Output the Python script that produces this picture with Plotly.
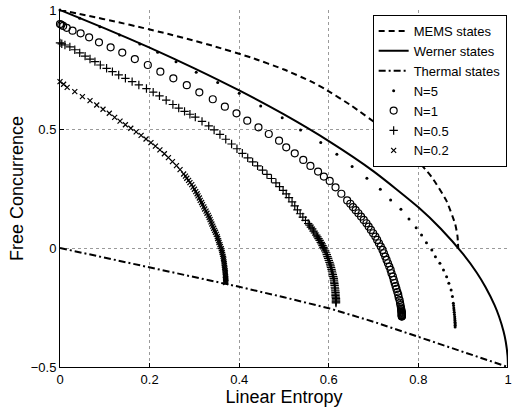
import plotly.graph_objects as go

# ---- data ----
mems_x = [0, 0.065, 0.1267, 0.185, 0.24, 0.2917, 0.34, 0.4267, 0.5, 0.56, 0.5926,
          0.6489, 0.7222, 0.7822, 0.8289, 0.8622, 0.8822, 0.8872, 0.8889]
mems_y = [1, 0.975, 0.95, 0.925, 0.9, 0.875, 0.85, 0.8, 0.75, 0.7, 0.6667,
          0.6, 0.5, 0.4, 0.3, 0.2, 0.1, 0.05, 0]

werner_x = [0, 0.1, 0.2, 0.3, 0.4, 0.5, 0.6, 0.7, 0.8, 0.85, 0.9, 0.93, 0.95,
            0.97, 0.98, 0.99, 0.995, 0.999, 1]
werner_y = [1, 0.923, 0.842, 0.755, 0.662, 0.561, 0.449, 0.322, 0.171, 0.081,
            -0.026, -0.103, -0.165, -0.240, -0.288, -0.35, -0.394, -0.453, -0.5]

thermal_x = [0, 0.1, 0.2, 0.3, 0.4, 0.5, 0.6, 0.7, 0.8, 0.9, 1]
thermal_y = [0, -0.04, -0.081, -0.121, -0.163, -0.207, -0.253, -0.31, -0.373, -0.435, -0.5]

n5_x = [0, 0.044, 0.089, 0.133, 0.178, 0.218, 0.259, 0.304, 0.352, 0.4, 0.448, 0.496,
        0.537, 0.582, 0.618, 0.652, 0.685, 0.715, 0.738, 0.761, 0.779, 0.795, 0.807,
        0.818, 0.830, 0.838, 0.848, 0.856, 0.863, 0.868, 0.873, 0.876, 0.878, 0.8785,
        0.879, 0.8795, 0.880, 0.8805, 0.881, 0.8813, 0.8815, 0.8818, 0.882, 0.882, 0.882]
n5_y = [1.0, 0.965, 0.930, 0.895, 0.857, 0.822, 0.783, 0.738, 0.695, 0.650, 0.597, 0.547,
        0.496, 0.443, 0.394, 0.342, 0.293, 0.247, 0.202, 0.163, 0.122, 0.085, 0.055,
        0.022, -0.008, -0.037, -0.064, -0.092, -0.121, -0.148, -0.176, -0.204, -0.232, -0.242,
        -0.252, -0.261, -0.270, -0.279, -0.289, -0.297, -0.305, -0.312, -0.318, -0.325, -0.332]

n1_x = [0, 0.003, 0.007, 0.015, 0.028, 0.046, 0.065, 0.087, 0.113, 0.139, 0.167, 0.196,
        0.224, 0.253, 0.283, 0.311, 0.341, 0.368, 0.394, 0.418, 0.443, 0.466, 0.489,
        0.505, 0.524, 0.543, 0.559, 0.576, 0.589, 0.602, 0.615, 0.628,
        0.641, 0.648, 0.654, 0.660, 0.666, 0.672, 0.678, 0.684, 0.689, 0.694, 0.699,
        0.704, 0.708, 0.712, 0.716, 0.720, 0.723, 0.726, 0.729, 0.732, 0.735, 0.738,
        0.740, 0.743, 0.745, 0.747, 0.749, 0.751, 0.753, 0.755, 0.756, 0.758, 0.759,
        0.760, 0.761, 0.7615, 0.762, 0.7623, 0.7625, 0.7628, 0.763, 0.763, 0.763, 0.763,
        0.763, 0.763, 0.763]
n1_y = [0.941, 0.938, 0.933, 0.925, 0.913, 0.902, 0.885, 0.864, 0.843, 0.821, 0.794, 0.769,
        0.741, 0.713, 0.684, 0.654, 0.625, 0.594, 0.566, 0.535, 0.507, 0.479, 0.451,
        0.423, 0.398, 0.370, 0.345, 0.321, 0.300, 0.282, 0.255, 0.228,
        0.200, 0.186, 0.172, 0.159, 0.146, 0.132, 0.118, 0.104, 0.090, 0.076, 0.062,
        0.048, 0.034, 0.020, 0.006, -0.008, -0.022, -0.036, -0.050, -0.064, -0.078, -0.092,
        -0.106, -0.120, -0.134, -0.147, -0.160, -0.172, -0.185, -0.196, -0.208, -0.219, -0.230,
        -0.240, -0.250, -0.256, -0.262, -0.266, -0.270, -0.273, -0.276, -0.279, -0.281, -0.283,
        -0.285, -0.287, -0.288]

n05_x = [0, 0.004, 0.011, 0.022, 0.033, 0.044, 0.056, 0.067, 0.078, 0.090, 0.104, 0.117,
         0.131, 0.146, 0.161, 0.176, 0.193, 0.208, 0.222, 0.237, 0.252, 0.265, 0.278,
         0.290, 0.302, 0.317, 0.332, 0.344, 0.357, 0.370, 0.383, 0.395, 0.407, 0.419,
         0.430, 0.441, 0.452, 0.462, 0.472, 0.482, 0.490, 0.498, 0.505, 0.511, 0.518,
         0.524, 0.530, 0.536, 0.542, 0.548,
         0.554, 0.557, 0.560, 0.563, 0.566, 0.569, 0.572, 0.5745, 0.577, 0.5795, 0.582,
         0.584, 0.586, 0.588, 0.590, 0.592, 0.594, 0.5955, 0.597, 0.5985, 0.600, 0.6015,
         0.603, 0.604, 0.605, 0.606, 0.607, 0.608, 0.609, 0.610, 0.611, 0.6115, 0.612,
         0.6125, 0.613, 0.6135, 0.614, 0.6145, 0.615, 0.615, 0.615, 0.6155, 0.616, 0.616,
         0.616, 0.616, 0.616]
n05_y = [0.862, 0.858, 0.853, 0.845, 0.833, 0.820, 0.806, 0.794, 0.783, 0.769, 0.755, 0.741,
         0.727, 0.713, 0.699, 0.685, 0.670, 0.655, 0.639, 0.621, 0.603, 0.588, 0.574,
         0.562, 0.550, 0.532, 0.513, 0.496, 0.477, 0.457, 0.437, 0.417, 0.398, 0.379,
         0.362, 0.345, 0.327, 0.309, 0.292, 0.274, 0.258, 0.242, 0.227, 0.212, 0.194,
         0.177, 0.160, 0.144, 0.130, 0.116,
         0.103, 0.096, 0.088, 0.080, 0.071, 0.063, 0.054, 0.047, 0.039, 0.032, 0.024,
         0.017, 0.010, 0.003, -0.004, -0.012, -0.020, -0.028, -0.036, -0.044, -0.052, -0.060,
         -0.068, -0.075, -0.082, -0.090, -0.097, -0.105, -0.112, -0.120, -0.128, -0.135, -0.143,
         -0.150, -0.157, -0.165, -0.172, -0.180, -0.187, -0.194, -0.200, -0.206, -0.212, -0.218,
         -0.223, -0.227, -0.231]

n02_x = [0, 0.008, 0.016, 0.033, 0.050, 0.067, 0.082, 0.096, 0.110, 0.122, 0.134, 0.146,
         0.158, 0.170, 0.181, 0.192, 0.203, 0.213, 0.223, 0.233, 0.242, 0.251, 0.260,
         0.268,
         0.276, 0.280, 0.283, 0.287, 0.290, 0.294, 0.297, 0.300, 0.303, 0.306, 0.308,
         0.311, 0.313, 0.316, 0.318, 0.321, 0.323, 0.326, 0.328, 0.331, 0.333, 0.335,
         0.337, 0.339, 0.341, 0.343, 0.345, 0.347, 0.349, 0.351, 0.352, 0.354, 0.355,
         0.357, 0.358, 0.360, 0.361, 0.362, 0.363, 0.364, 0.365, 0.3655, 0.366, 0.3665,
         0.367, 0.3675, 0.368, 0.3685, 0.369, 0.369, 0.369, 0.3695, 0.370, 0.370, 0.370,
         0.370, 0.370]
n02_y = [0.699, 0.688, 0.675, 0.657, 0.636, 0.619, 0.601, 0.583, 0.566, 0.549, 0.533, 0.518,
         0.503, 0.488, 0.473, 0.458, 0.443, 0.428, 0.412, 0.396, 0.380, 0.363, 0.346,
         0.329,
         0.311, 0.302, 0.293, 0.284, 0.275, 0.266, 0.256, 0.247, 0.237, 0.228, 0.219,
         0.210, 0.200, 0.191, 0.182, 0.173, 0.164, 0.155, 0.146, 0.137, 0.128, 0.119,
         0.110, 0.101, 0.092, 0.083, 0.074, 0.066, 0.057, 0.048, 0.040, 0.031, 0.023,
         0.014, 0.006, -0.003, -0.011, -0.019, -0.027, -0.035, -0.043, -0.050, -0.058, -0.066,
         -0.073, -0.081, -0.088, -0.095, -0.102, -0.109, -0.115, -0.121, -0.127, -0.132, -0.137,
         -0.141, -0.145]

x_ticks = [0, 0.2, 0.4, 0.6, 0.8, 1]
x_ticklabels = ["0", "0.2", "0.4", "0.6", "0.8", "1"]
y_ticks = [-0.5, 0, 0.5, 1]
y_ticklabels = ["\u22120.5", "0", "0.5", "1"]

FONT = "Liberation Sans, Arial, Helvetica, sans-serif"

fig = go.Figure()
fig.add_trace(go.Scatter(x=mems_x, y=mems_y, mode="lines", name="MEMS states",
                         line=dict(color="black", width=2, dash="6px,4px", shape="spline", smoothing=0.5)))
fig.add_trace(go.Scatter(x=werner_x, y=werner_y, mode="lines", name="Werner states",
                         line=dict(color="black", width=2, shape="spline", smoothing=0.6)))
fig.add_trace(go.Scatter(x=thermal_x, y=thermal_y, mode="lines", name="Thermal states",
                         line=dict(color="black", width=2, dash="7px,3px,2px,3px")))
fig.add_trace(go.Scatter(x=n5_x, y=n5_y, mode="markers", name="N=5", cliponaxis=False,
                         marker=dict(symbol="circle", size=3, color="black")))
fig.add_trace(go.Scatter(x=n1_x, y=n1_y, mode="markers", name="N=1", cliponaxis=False,
                         marker=dict(symbol="circle-open", size=7, color="black",
                                     line=dict(width=1.2, color="black"))))
fig.add_trace(go.Scatter(x=n05_x, y=n05_y, mode="markers", name="N=0.5", cliponaxis=False,
                         marker=dict(symbol="cross-thin", size=6, color="black",
                                     line=dict(width=1.2, color="black"))))
fig.add_trace(go.Scatter(x=n02_x, y=n02_y, mode="markers", name="N=0.2", cliponaxis=False,
                         marker=dict(symbol="x-thin", size=5, color="black",
                                     line=dict(width=1.2, color="black"))))

axis_common = dict(showline=True, linecolor="black", linewidth=1, mirror=False,
                   ticks="inside", ticklen=4, tickcolor="black", tickwidth=1,
                   showgrid=True, gridcolor="#9a9a9a", griddash="dot", gridwidth=1,
                   zeroline=False, ticklabeloverflow="allow", automargin=False,
                   tickfont=dict(family=FONT, size=13, color="black"))

fig.update_xaxes(range=[0, 1], tickvals=x_ticks, ticktext=x_ticklabels,
                 title=dict(text="Linear Entropy", font=dict(family=FONT, size=18, color="black"),
                            standoff=2), **axis_common)
fig.update_yaxes(range=[-0.5, 1], tickvals=y_ticks, ticktext=y_ticklabels,
                 title=dict(text="Free Concurrence", font=dict(family=FONT, size=18, color="black"),
                            standoff=2), **axis_common)

fig.update_layout(
    width=512, height=413,
    margin=dict(l=60, r=4, t=10, b=46),
    paper_bgcolor="white", plot_bgcolor="white",
    font=dict(family=FONT, color="black"),
    hovermode=False,
    legend=dict(x=0.997, y=0.986, xanchor="right", yanchor="top",
                bgcolor="white", bordercolor="black", borderwidth=1,
                font=dict(family=FONT, size=13, color="black"),
                itemwidth=30, tracegroupgap=0),
)

fig.write_html("out.html", config={"displayModeBar": False},
               post_script="document.body.style.margin='0px';document.body.style.padding='0px';")
